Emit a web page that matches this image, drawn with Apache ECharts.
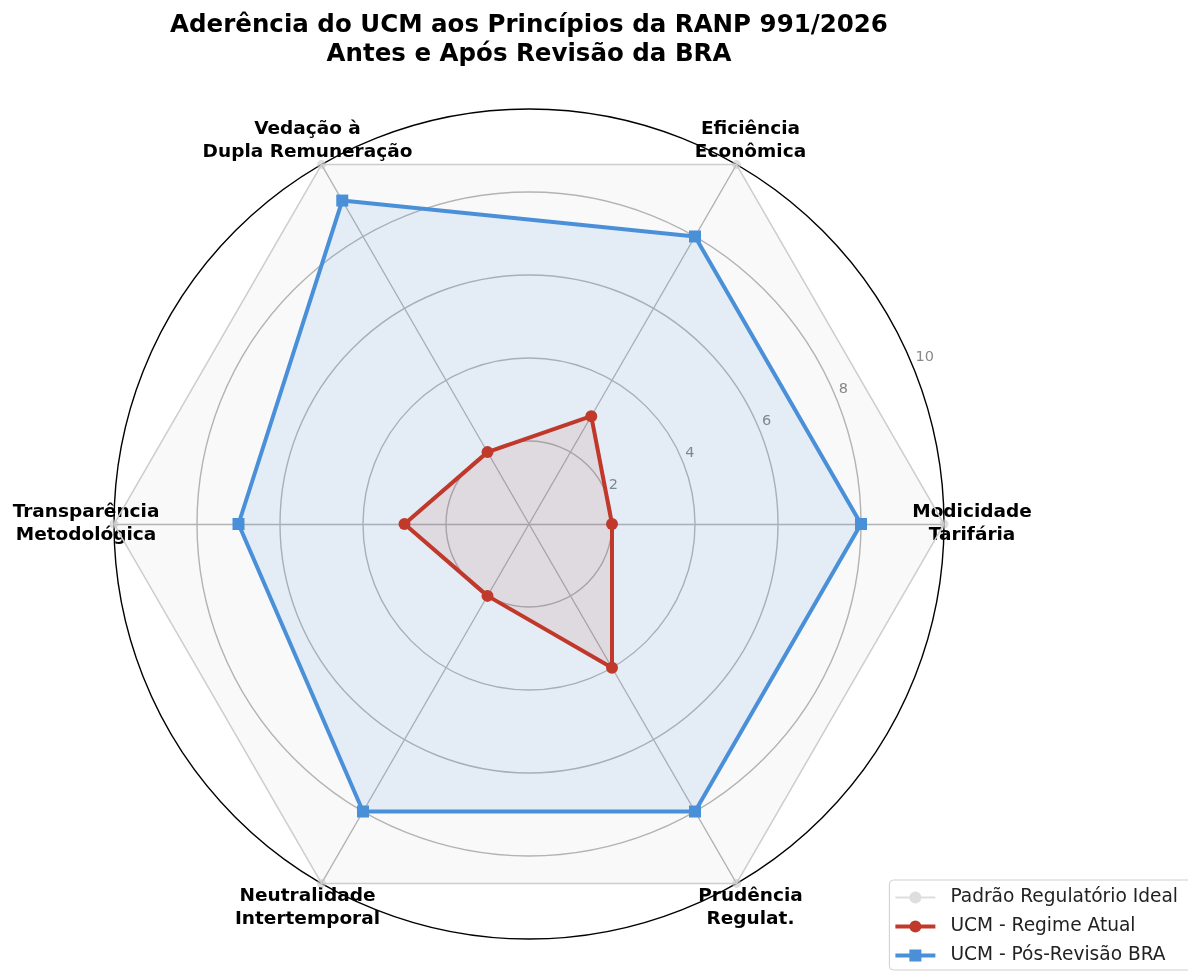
<!DOCTYPE html>
<html>
<head>
<meta charset="utf-8">
<style>
  html, body { margin: 0; padding: 0; background: #fff; }
  #chart { width: 1188px; height: 971px; }
</style>
<script src="https://cdn.jsdelivr.net/npm/echarts@6/dist/echarts.min.js"></script>
</head>
<body>
<div id="chart"></div>
<script>
// princípios avaliados (ordem anti-horária a partir da direita)
const principios = [
  'Modicidade\nTarifária',
  'Eficiência\nEconômica',
  'Vedação à\nDupla Remuneração',
  'Transparência\nMetodológica',
  'Neutralidade\nIntertemporal',
  'Prudência\nRegulat.'
]
const padraoIdeal = [10, 10, 10, 10, 10, 10]
const regimeAtual = [2, 3, 2, 3, 2, 4]
const posRevisao = [8, 8, 9, 7, 8, 8]
const escalaTicks = [0, 2, 4, 6, 8, 10]

const nomeIdeal = 'Padrão Regulatório Ideal'
const nomeAtual = 'UCM - Regime Atual'
const nomePos = 'UCM - Pós-Revisão BRA'

const centro = [529, 524]
const raio = 415
const fonte = 'DejaVu Sans'

// icones da legenda: linha com marcador
const iconeFino = 'path://M0,5 L40,5 L40,7 L0,7 Z M26,6 A6,6 0 1,1 14,6 A6,6 0 1,1 26,6 Z'
const iconeCirculo = 'path://M0,4 L40,4 L40,8 L0,8 Z M26,6 A6,6 0 1,1 14,6 A6,6 0 1,1 26,6 Z'
const iconeQuadrado = 'path://M0,4 L40,4 L40,8 L0,8 Z M14,0 L26,0 L26,12 L14,12 Z'

const chart = echarts.init(document.getElementById('chart'))

let option = {
  backgroundColor: '#fff',
  animation: false,
  title: {
    text: 'Aderência do UCM aos Princípios da RANP 991/2026\nAntes e Após Revisão da BRA',
    left: centro[0] - 5,
    top: 6,
    textAlign: 'center',
    textStyle: {
      fontFamily: fonte,
      fontSize: 24.5,
      fontWeight: 'bold',
      color: '#000',
      lineHeight: 29
    }
  },
  legend: {
    orient: 'vertical',
    right: -4,
    bottom: 1,
    itemWidth: 40,
    itemHeight: 12,
    itemGap: 10,
    padding: [8, 14, 5, 6],
    borderColor: '#cfcfcf',
    borderWidth: 1,
    borderRadius: 4,
    backgroundColor: '#fff',
    textStyle: { fontFamily: fonte, fontSize: 18.6, color: '#222', padding: [0, 0, 0, 10] },
    data: [
      { name: nomeIdeal, icon: iconeFino, itemStyle: { color: '#c8c8c8' } },
      { name: nomeAtual, icon: iconeCirculo },
      { name: nomePos, icon: iconeQuadrado }
    ]
  },
  radar: {
    center: centro,
    radius: raio,
    startAngle: 0,
    shape: 'circle',
    splitNumber: 5,
    nameGap: 28,
    indicator: principios.map(p => ({ name: p, min: 0, max: 10 })),
    axisName: {
      color: '#000',
      fontFamily: fonte,
      fontSize: 18.5,
      fontWeight: 'bold',
      lineHeight: 23,
      align: 'center',
      verticalAlign: 'middle'
    },
    axisLine: { lineStyle: { color: '#b8b8b8', width: 1.3 } },
    splitLine: {
      lineStyle: {
        color: ['#b8b8b8', '#b8b8b8', '#b8b8b8', '#b8b8b8', '#b8b8b8', '#000'],
        width: 1.4
      }
    },
    splitArea: { show: false },
    axisTick: { show: false },
    axisLabel: { show: false }
  },
  // eixo polar invisivel so para os rotulos radiais a 22.5 graus
  polar: { center: centro, radius: raio },
  angleAxis: {
    type: 'value',
    startAngle: 22.5,
    min: 0,
    max: 360,
    show: false
  },
  radiusAxis: {
    type: 'value',
    min: 0,
    max: 10,
    interval: 2,
    data: escalaTicks,
    axisLine: { show: false },
    axisTick: { show: false },
    splitLine: { show: false },
    axisLabel: {
      color: '#8a8a8a',
      fontFamily: fonte,
      fontSize: 14.5,
      margin: 0,
      align: 'left',
      verticalAlign: 'bottom',
      padding: [0, 0, 0, 3],
      formatter: v => (v === 0 ? '' : v)
    }
  },
  series: [
    {
      name: nomeIdeal,
      type: 'radar',
      z: 2,
      symbol: 'circle',
      symbolSize: 9,
      itemStyle: { color: '#c8c8c8', opacity: 0.6 },
      lineStyle: { color: '#d0d0d0', width: 1.5 },
      areaStyle: { color: 'rgba(0,0,0,0.03)' },
      data: [{ name: nomeIdeal, value: padraoIdeal }]
    },
    {
      name: nomePos,
      type: 'radar',
      z: 3,
      symbol: 'rect',
      symbolSize: 12,
      itemStyle: { color: '#4a90d9' },
      lineStyle: { color: '#4a90d9', width: 4 },
      areaStyle: { color: 'rgba(74,144,217,0.17)' },
      data: [{ name: nomePos, value: posRevisao }]
    },
    {
      name: nomeAtual,
      type: 'radar',
      z: 4,
      symbol: 'circle',
      symbolSize: 12,
      itemStyle: { color: '#c0392b' },
      lineStyle: { color: '#c0392b', width: 4 },
      areaStyle: { color: 'rgba(192,57,43,0.15)' },
      data: [{ name: nomeAtual, value: regimeAtual }]
    }
  ]
}

chart.setOption(option)
</script>
</body>
</html>
